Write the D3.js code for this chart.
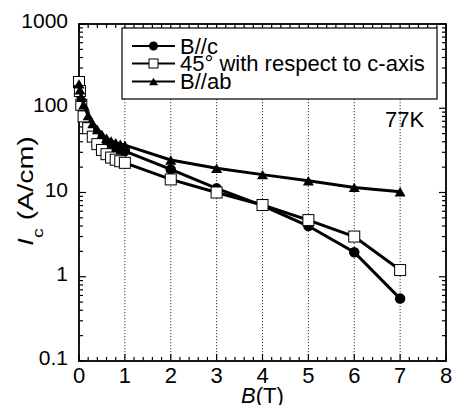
<!DOCTYPE html>
<html lang="en">
<head>
<meta charset="UTF-8">
<title>Ic vs B</title>
<script src="https://d3js.org/d3.v7.min.js"></script>
<style>
    body { margin: 0; background: #fff; }
    svg { font-family: "Liberation Sans", Arial, sans-serif; }
</style>
</head>
<body>
<svg id="chart" width="452" height="405"></svg>
<script>
// field values (T), shared by all three series
const fieldT = [0, 0.02, 0.05, 0.1, 0.2, 0.3, 0.4, 0.5, 0.6, 0.7, 0.8, 0.9, 1, 2, 3, 4, 5, 6, 7];
// critical current (A/cm)
const icBc  = [190, 150, 120, 95, 70, 57, 49, 43, 39, 36, 34, 32, 31, 18.8, 11.2, 7.0, 4.0, 1.95, 0.55];
const ic45  = [205, 160, 110, 80, 58, 46, 37.5, 32, 28.5, 26, 24.5, 23.5, 22.5, 14.3, 10.0, 7.1, 4.7, 3.0, 1.2];
const icBab = [195, 165, 135, 110, 82, 66, 56, 49, 44, 41, 39, 37.5, 36.5, 24.3, 19.4, 16.3, 13.8, 11.5, 10.2];

const seriesNames = ["B//c", "45\u00B0 with respect to c-axis", "B//ab"];
const xTicks = [0, 1, 2, 3, 4, 5, 6, 7, 8];
const yTicks = [0.1, 1, 10, 100, 1000];
const gridX = [1, 2, 3, 4, 5, 6, 7];

const svg = d3.select("#chart");
const plotL = 79, plotR = 446, plotT = 24, plotB = 361;

const x = d3.scaleLinear().domain([0, 8]).range([plotL, plotR]);
const y = d3.scaleLog().domain([0.1, 1000]).range([plotB, plotT]);

// dotted vertical grid
svg.append("g").selectAll("line").data(gridX).join("line")
    .attr("x1", d => x(d)).attr("x2", d => x(d))
    .attr("y1", plotT).attr("y2", plotB)
    .attr("stroke", "#000").attr("stroke-width", 0.8)
    .attr("stroke-dasharray", "1.2,1.8");

// minor/major ticks for all four sides (inward)
const xMinor = d3.range(0, 8.001, 0.2).map(v => +v.toFixed(1));
const yMinor = [];
for (let e = -1; e < 3; e++) for (let m = 1; m < 10; m++) yMinor.push(m * Math.pow(10, e));
yMinor.push(1000);

const tickG = svg.append("g").attr("stroke", "#000").attr("stroke-width", 1.2);
xMinor.forEach(v => {
    const len = Number.isInteger(v) ? 7 : 4;
    tickG.append("line").attr("x1", x(v)).attr("x2", x(v)).attr("y1", plotB).attr("y2", plotB - len);
    tickG.append("line").attr("x1", x(v)).attr("x2", x(v)).attr("y1", plotT).attr("y2", plotT + len);
});
yMinor.forEach(v => {
    const major = Math.abs(Math.log10(v) - Math.round(Math.log10(v))) < 1e-9;
    const len = major ? 7 : 4;
    tickG.append("line").attr("x1", plotL).attr("x2", plotL + len).attr("y1", y(v)).attr("y2", y(v));
    tickG.append("line").attr("x1", plotR).attr("x2", plotR - len).attr("y1", y(v)).attr("y2", y(v));
});

// frame
svg.append("rect")
    .attr("x", plotL).attr("y", plotT)
    .attr("width", plotR - plotL).attr("height", plotB - plotT)
    .attr("fill", "none").attr("stroke", "#000").attr("stroke-width", 1.8);

// tick labels
svg.append("g").selectAll("text").data(xTicks).join("text")
    .attr("x", d => x(d)).attr("y", 383)
    .attr("text-anchor", "middle").attr("font-size", 22)
    .text(d => d);
svg.append("g").selectAll("text").data(yTicks).join("text")
    .attr("x", 68).attr("y", d => y(d) + 4)
    .attr("text-anchor", "end").attr("font-size", 21)
    .text(d => d);

// axis titles
const xt = svg.append("text").attr("x", (plotL + plotR) / 2).attr("y", 403)
    .attr("text-anchor", "middle").attr("font-size", 22);
xt.append("tspan").attr("font-style", "italic").text("B");
xt.append("tspan").text("(T)");

const yt = svg.append("text").attr("transform", "translate(33,191) rotate(-90) scale(1.3,1)")
    .attr("text-anchor", "middle").attr("font-size", 22);
yt.append("tspan").attr("font-style", "italic").text("I");
yt.append("tspan").attr("font-size", 15).attr("dy", 10).text("c");
yt.append("tspan").attr("dy", -10).text(" (A/cm)");

// series
const series = [
    { name: seriesNames[0], vals: icBc, shape: "circle" },
    { name: seriesNames[1], vals: ic45, shape: "square" },
    { name: seriesNames[2], vals: icBab, shape: "triangle" }
];

const line = d3.line().x(d => x(d[0])).y(d => y(d[1]));

function drawMarker(g, shape, cx, cy, s) {
    if (shape === "circle") {
        g.append("circle").attr("cx", cx).attr("cy", cy).attr("r", s / 2).attr("fill", "#000");
    } else if (shape === "square") {
        g.append("rect").attr("x", cx - s / 2).attr("y", cy - s / 2).attr("width", s).attr("height", s)
            .attr("fill", "#fff").attr("stroke", "#000").attr("stroke-width", 1);
    } else {
        const h = s * 0.85;
        g.append("path").attr("d", `M${cx - s / 2},${cy + h / 2}L${cx + s / 2},${cy + h / 2}L${cx},${cy - h / 2}Z`)
            .attr("fill", "#000");
    }
}

series.forEach(s => {
    const pts = fieldT.map((f, i) => [f, s.vals[i]]);
    const g = svg.append("g");
    g.append("path").datum(pts).attr("d", line)
        .attr("fill", "none").attr("stroke", "#000").attr("stroke-width", 3);
    pts.forEach(p => drawMarker(g, s.shape, x(p[0]), y(p[1]), s.shape === "circle" ? 10.5 : 11));
});

// 77K label
svg.append("text").attr("x", 385).attr("y", 127).attr("font-size", 22).text("77K");

// legend
const lg = svg.append("g");
lg.append("rect").attr("x", 122).attr("y", 28).attr("width", 315).attr("height", 71)
    .attr("fill", "#fff").attr("stroke", "#000").attr("stroke-width", 1.2);
const rowY = [46, 63.5, 81.5];
series.forEach((s, i) => {
    lg.append("line").attr("x1", 132).attr("x2", 175).attr("y1", rowY[i]).attr("y2", rowY[i])
        .attr("stroke", "#000").attr("stroke-width", 2);
    drawMarker(lg, s.shape, 153.5, rowY[i], 9);
    lg.append("text").attr("x", 180).attr("y", rowY[i] + 7.5).attr("font-size", 22).text(s.name);
});
</script>
</body>
</html>
